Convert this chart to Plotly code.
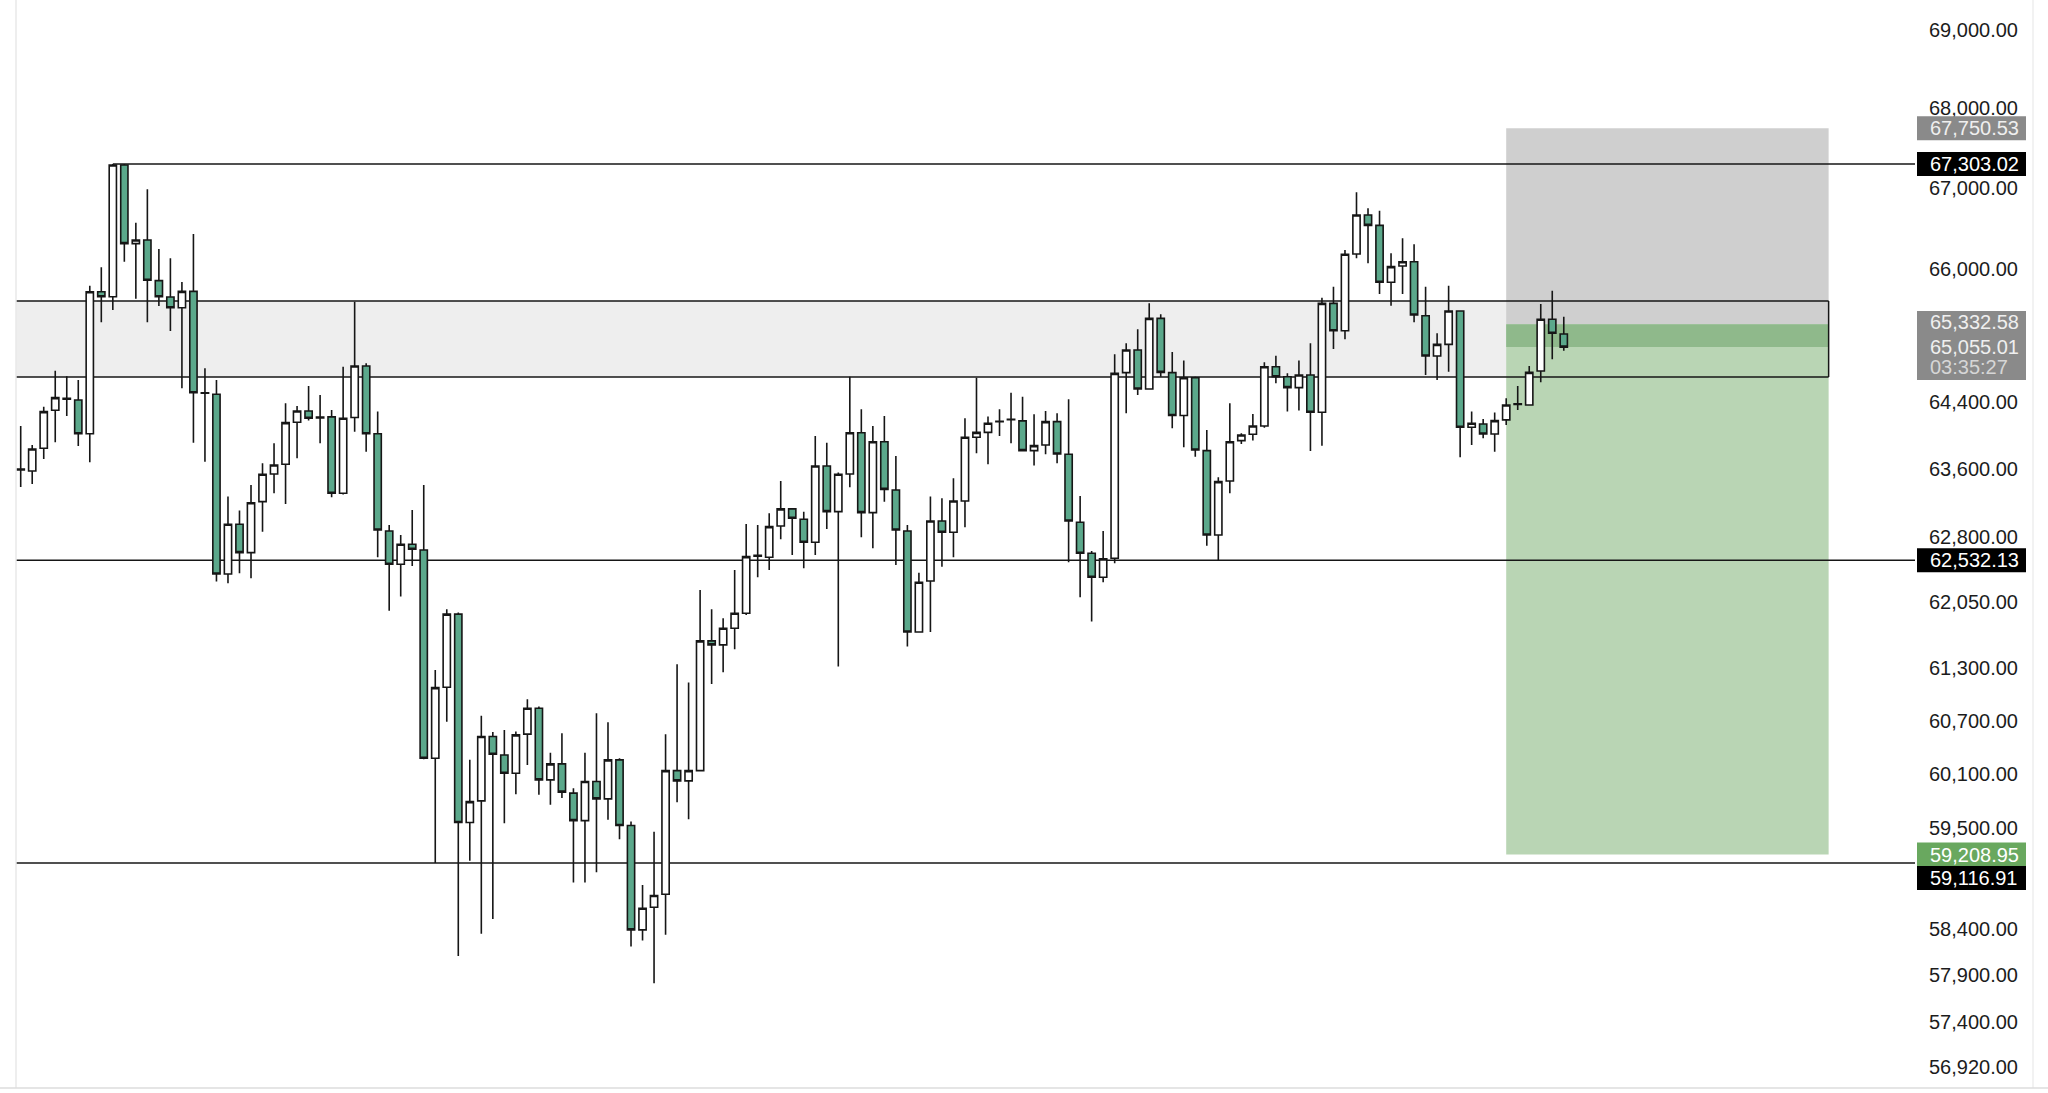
import math
import plotly.graph_objects as go

# ---------------- data ----------------
opens = [63600, 63577, 63845, 64297, 64440, 64420, 64018, 65727, 65666, 67290,
         66316, 66361, 65862, 65662, 65532, 65731, 64507, 64488, 62374, 62952,
         62621, 63216, 63541, 63656, 64154, 64289, 64215, 64218, 63314, 64210,
         64827, 64018, 62873, 62486, 62718, 62652, 60277, 61077, 61910, 59562,
         59802, 60520, 60314, 60110, 60547, 60839, 60036, 60214, 59888, 59584,
         60017, 59825, 60259, 59529, 58388, 58634, 58776, 60139, 60025, 60139,
         61604, 61558, 61749, 61921, 62580, 62567, 62931, 63131, 63010, 62741,
         63636, 63099, 63541, 64030, 63087, 63923, 63353, 62873, 61706, 62293,
         62990, 62858, 63224, 63975, 64034, 64160, 64190, 64170, 63817, 63884,
         64162, 63774, 62975, 62614, 62335, 62556, 64747, 65020, 64552, 65403,
         64747, 64234, 64686, 63817, 62826, 63459, 63936, 64011, 64110, 64819,
         64698, 64567, 64719, 64273, 65585, 65253, 66189, 66669, 66541, 65842,
         66042, 66094, 65435, 64948, 65088, 65492, 64094, 64134, 64015, 64182,
         64365, 64360, 64767, 65391, 65213]
highs = [64110, 63884, 64340, 64770, 64704, 64659, 65800, 66025, 67303.02, 67303,
         66574, 66988, 66250, 66136, 65846, 66435, 64799, 64659, 63275, 63111,
         63412, 63668, 63904, 64380, 64349, 64587, 64480, 64301, 64819, 65605,
         64860, 64281, 62943, 62826, 63119, 63412, 61273, 61967, 61928, 60259,
         60755, 60570, 60595, 60576, 60941, 60858, 60340, 60558, 59943, 60340,
         60782, 60681, 60277, 59573, 58877, 59462, 60547, 61338, 61129, 62189,
         61967, 61864, 62420, 62955, 62943, 63080, 63459, 63140, 63099, 63991,
         63911, 63560, 64698, 64309, 64110, 64230, 63755, 62943, 62389, 63275,
         63256, 63490, 64202, 64686, 64222, 64309, 64507, 64459, 64249, 64289,
         64261, 64428, 63283, 62640, 62873, 64968, 65101, 65270, 65585, 65452,
         64996, 64892, 64698, 64062, 63502, 64380, 64022, 64253, 64872, 64952,
         64739, 64892, 65101, 65654, 65788, 66238, 66951, 66752, 66723, 66197,
         66382, 66308, 65788, 65222, 65800, 65500, 64281, 64194, 64269, 64440,
         64587, 64827, 65577, 65739, 65423]
lows = [63388, 63424, 63719, 63916, 64230, 63872, 63680, 65355, 65504, 66094,
        65642, 65355, 65553, 65250, 64560, 63911, 63687, 62285, 62265, 62382,
        62324, 62865, 63314, 63189, 63727, 64174, 63904, 63268, 63300, 64042,
        63805, 62567, 61948, 62112, 62466, 60265, 59116.91, 60688, 58107, 59143,
        58345, 58507, 59555, 59876, 60203, 59869, 59758, 59833, 58903, 58903,
        59016, 59592, 59379, 58208, 58272, 57813, 58334, 59788, 59600, 60128,
        61114, 61247, 61509, 61900, 62335, 62420, 62776, 62594, 62440, 62594,
        62896, 61311, 63385, 62799, 62672, 63216, 62478, 61539, 61700, 61706,
        62458, 62567, 62917, 63785, 63656, 63991, 63904, 63810, 63640, 63774,
        63668, 62509, 62105, 61825, 62278, 62497, 64261, 64480, 64545, 64698,
        64082, 63857, 63746, 62702, 62532.13, 63314, 63896, 63936, 64090, 64620,
        64281, 64293, 63813, 63876, 65032, 65149, 66136, 66074, 65699, 65556,
        65699, 65355, 64719, 64659, 64758, 63740, 63884, 63963, 63805, 64122,
        64301, 64350, 64631, 64908, 65012]
closes = [63590, 63837, 64281, 64448, 64430, 64018, 65727, 65666, 67290, 66316,
          66361, 65866, 65666, 65532, 65731, 64507, 64500, 62374, 62952, 62621,
          63204, 63538, 63648, 64150, 64289, 64202, 64205, 63314, 64202, 64827,
          64018, 62885, 62486, 62718, 62660, 60277, 61072, 61910, 59562, 59794,
          60520, 60322, 60110, 60539, 60839, 60036, 60214, 59899, 59584, 60017,
          59825, 60259, 59529, 58388, 58623, 58761, 60139, 60025, 60139, 61604,
          61558, 61749, 61921, 62574, 62590, 62924, 63131, 63022, 62741, 63636,
          63099, 63538, 64030, 63087, 63923, 63360, 62885, 61706, 62278, 62990,
          62858, 63224, 63975, 64034, 64142, 64165, 64185, 63817, 63876, 64162,
          63778, 62990, 62614, 62335, 62548, 64739, 65020, 64552, 65403, 64751,
          64234, 64686, 63825, 62826, 63451, 63923, 64003, 64110, 64819, 64698,
          64567, 64719, 64273, 65585, 65253, 66185, 66669, 66541, 65842, 66033,
          66094, 65444, 64948, 65088, 65492, 64094, 64142, 64015, 64174, 64360,
          64375, 64751, 65391, 65222, 65055.01]
bars = list(range(len(opens)))

price_ticks = [69000, 68000, 67000, 66000, 64400, 63600, 62800, 62050,
               61300, 60700, 60100, 59500, 58400, 57900, 57400, 56920]

resistance_high = 67303.02
support_mid = 62532.13
support_low = 59116.91
zone_bottom = 64695.0
zone_top = 65614.0
stop_loss = 67750.53
entry = 65332.58
last_price = 65055.01
take_profit = 59208.95
countdown = "03:35:27"
resistance_from_bar = 8
position_from_bar = 129
drawings_to_bar = 157

# ---------------- geometry / style ----------------
W, H = 2048, 1093
ML, MR, MT, MB = 16, 133, 0, 5
PW = W - ML - MR
PH = H - MT - MB
x_range = [-0.408, 164.5]
y_lo, y_hi = 56700.0, 69382.0
LY0, LY1 = math.log10(y_lo), math.log10(y_hi)

FONT = "Liberation Sans, Arial, sans-serif"
INK = "#161616"
TEAL = "#5ba88b"


def yp(price):
    """price -> paper fraction on the log price axis"""
    return (math.log10(price) - LY0) / (LY1 - LY0)


shapes = []
annotations = []


def area(x0, x1, p0, p1, color, x0ref="x"):
    shapes.append(dict(type="rect", xref=x0ref, yref="paper", x0=x0, x1=x1,
                       y0=yp(p0), y1=yp(p1), fillcolor=color, line=dict(width=0),
                       layer="below"))


def hline(x0, x1, p):
    shapes.append(dict(type="line", xref="x", yref="paper", x0=x0, x1=x1,
                       y0=yp(p), y1=yp(p), line=dict(color=INK, width=1.5),
                       layer="below"))


# zone and position areas (under the candles)
area(x_range[0], drawings_to_bar, zone_bottom, zone_top, "#eeeeee")
area(position_from_bar, drawings_to_bar, entry, stop_loss, "#cfcfcf")
area(position_from_bar, drawings_to_bar, take_profit, entry, "#b9d5b4")
area(position_from_bar, drawings_to_bar, last_price, entry, "#8fb98b")

# black drawing lines
hline(x_range[0], drawings_to_bar, zone_top)
hline(x_range[0], drawings_to_bar, zone_bottom)
shapes.append(dict(type="line", xref="x", yref="paper", x0=drawings_to_bar,
                   x1=drawings_to_bar, y0=yp(zone_bottom), y1=yp(zone_top),
                   line=dict(color=INK, width=1.5), layer="below"))
hline(resistance_from_bar, x_range[1], resistance_high)
hline(x_range[0], x_range[1], support_mid)
hline(x_range[0], x_range[1], support_low)

fig = go.Figure()
fig.add_trace(go.Candlestick(
    x=bars, open=opens, high=highs, low=lows, close=closes,
    increasing=dict(line=dict(color=INK, width=1.6), fillcolor="#ffffff"),
    decreasing=dict(line=dict(color=INK, width=1.6), fillcolor=TEAL),
    whiskerwidth=0, showlegend=False, hoverinfo="skip"))

# right-hand price labels
BX0 = 1 + 2 / PW
BX1 = 1 + 111 / PW


def label_box(y_center_paper, half_up, half_down, color):
    shapes.append(dict(type="rect", xref="paper", yref="paper", x0=BX0, x1=BX1,
                       y0=y_center_paper - half_down / PH, y1=y_center_paper + half_up / PH,
                       fillcolor=color, line=dict(width=0), layer="above"))


def label_text(y_paper, text, color):
    annotations.append(dict(xref="paper", yref="paper", x=1, y=y_paper, xanchor="left",
                            yanchor="middle", xshift=13, text=text, showarrow=False,
                            font=dict(family=FONT, size=20, color=color)))


for price, bg, fg, shift in [(stop_loss, "#8a8a8a", "#efefef", 0),
                             (resistance_high, "#000000", "#ffffff", 0),
                             (support_mid, "#000000", "#ffffff", 0),
                             (take_profit, "#69a85f", "#ffffff", 0),
                             (support_low, "#000000", "#ffffff", -15)]:
    yc = yp(price) + shift / PH
    label_box(yc, 12, 12, bg)
    label_text(yc, f"{price:,.2f}", fg)

yc = yp(last_price)
label_box(yc, 36, 33, "#8a8a8a")
label_text(yp(entry) + 2 / PH, f"{entry:,.2f}", "#efefef")
label_text(yc, f"{last_price:,.2f}", "#efefef")
label_text(yc - 20 / PH, countdown, "#d6d6d6")

# frame lines
shapes.append(dict(type="line", xref="paper", yref="paper", x0=0, x1=0, y0=0, y1=1,
                   line=dict(color="#e8e8e8", width=1.5), layer="above"))
shapes.append(dict(type="line", xref="paper", yref="paper", x0=1 + 118 / PW, x1=1 + 118 / PW,
                   y0=0, y1=1 + MT / PH, line=dict(color="#eeeeee", width=1.5), layer="above"))
shapes.append(dict(type="line", xref="paper", yref="paper", x0=-ML / PW, x1=1 + MR / PW,
                   y0=0, y1=0, line=dict(color="#dddddd", width=1.5), layer="above"))

fig.update_layout(
    width=W, height=H,
    margin=dict(l=ML, r=MR, t=MT, b=MB, autoexpand=False),
    paper_bgcolor="#ffffff", plot_bgcolor="#ffffff",
    showlegend=False, boxgap=0.37, boxgroupgap=0,
    shapes=shapes, annotations=annotations,
    xaxis=dict(range=x_range, visible=False, rangeslider=dict(visible=False),
               showgrid=False, zeroline=False),
    yaxis=dict(type="log", range=[LY0, LY1], side="right", tickmode="array",
               tickvals=price_ticks, ticktext=[f"{v:,.2f}" for v in price_ticks],
               showgrid=False, zeroline=False, showline=False, ticks="",
               ticklabelstandoff=13, automargin=False,
               tickfont=dict(family=FONT, size=20, color="#1c1c1c")),
)

fig.write_html("out.html", config={"displayModeBar": False})
